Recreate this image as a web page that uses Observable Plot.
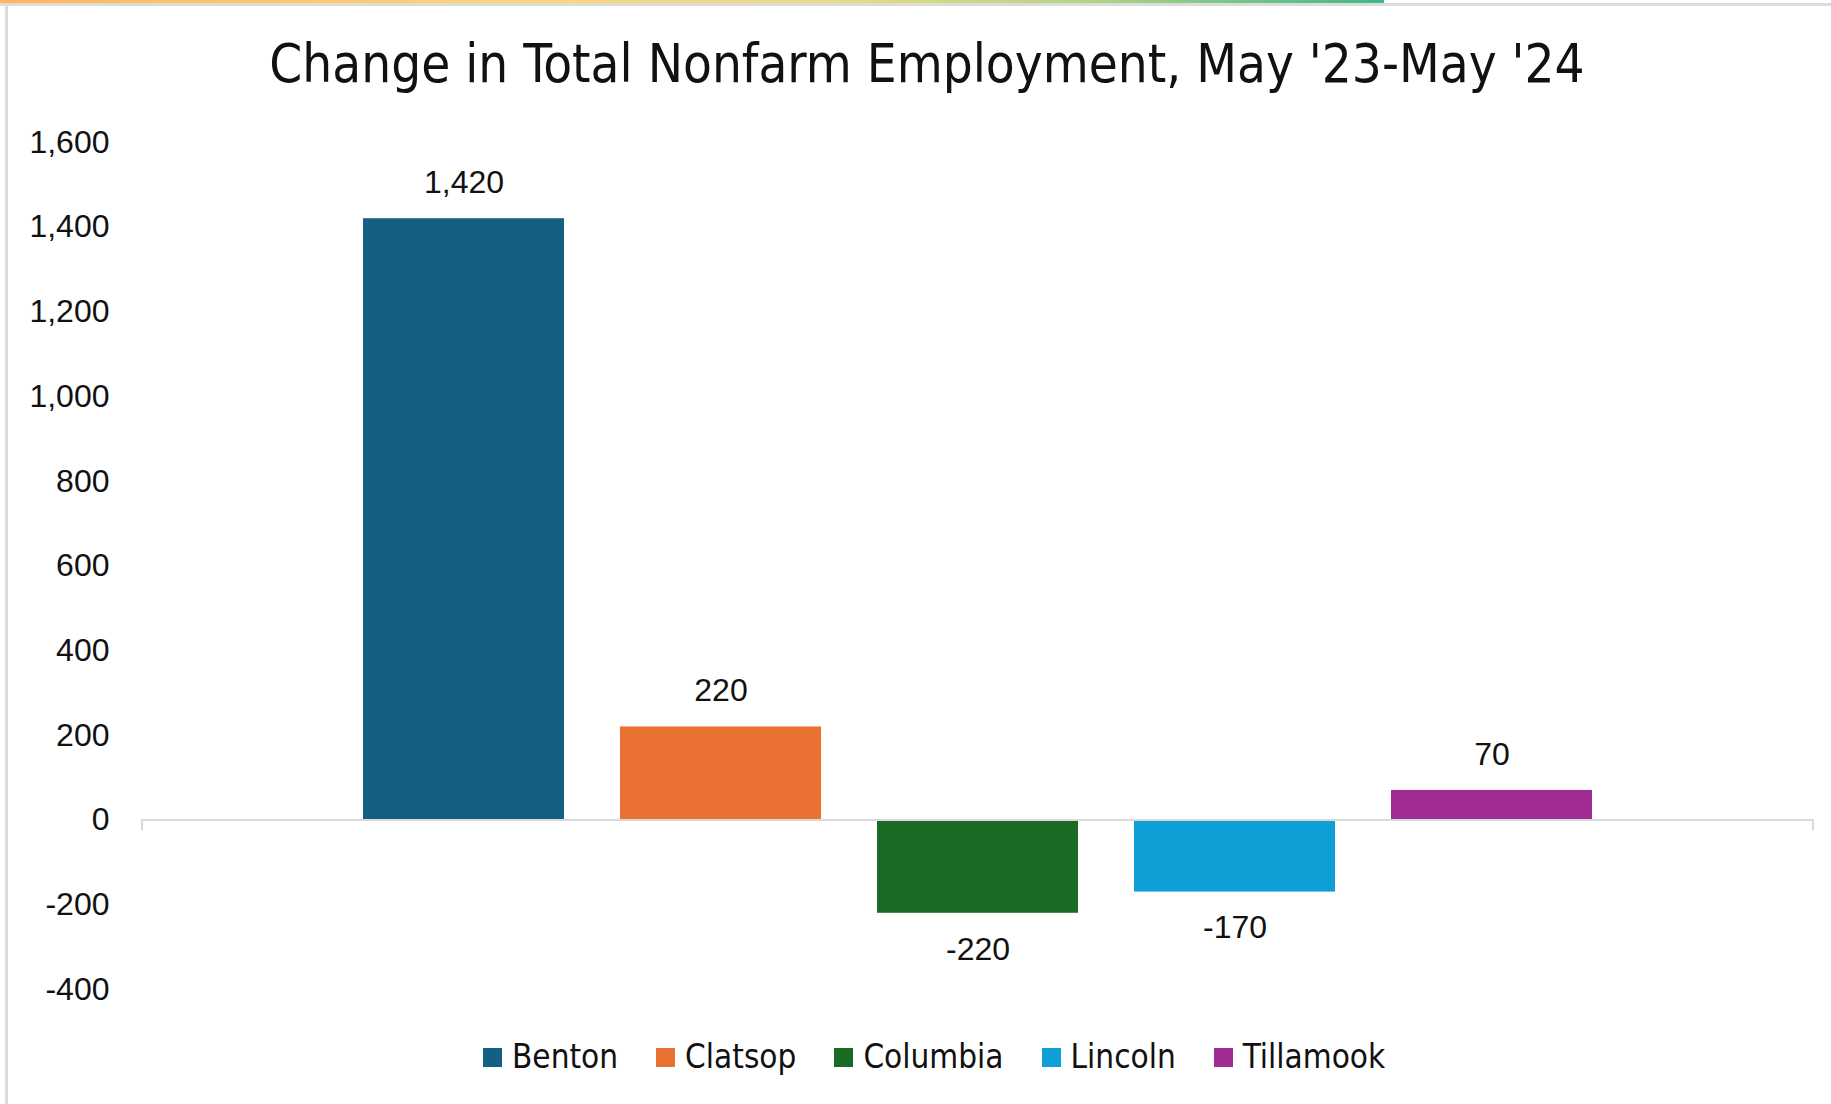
<!DOCTYPE html>
<html>
<head>
<meta charset="utf-8">
<script src="https://cdn.jsdelivr.net/npm/d3@7"></script>
<script src="https://cdn.jsdelivr.net/npm/@observablehq/plot@0.6"></script>
<style>
  html, body { margin: 0; padding: 0; background: #fff; }
  #page { position: relative; width: 1831px; height: 1104px; overflow: hidden; background: #fff; }
  #topbar { position: absolute; left: 0; top: 0; width: 1384px; height: 3px;
    background: linear-gradient(to right, #FDB65E 0%, #FBD77C 40%, #E9DC82 60%, #B5D486 78%, #3DB887 100%); }
  #topline { position: absolute; left: 0; top: 3px; width: 1831px; height: 3px; background: #dcdcdc; }
  #leftline { position: absolute; left: 5px; top: 5px; width: 3px; height: 1099px; background: #dcdcdc; }
  #title { position: absolute; left: 0; top: 28px; width: 1854px; text-align: center;
    font-family: "Liberation Sans Narrow", "DejaVu Sans Condensed", "Roboto Condensed", sans-serif;
    font-stretch: condensed; font-size: 56px; line-height: 72px; color: #111; white-space: nowrap; }
  #title span { display: inline-block; }
  #chart { position: absolute; left: 0; top: 121px; }
  #legend { position: absolute; left: 483px; top: 1037px; display: flex; align-items: center;
    font-family: "Liberation Sans Narrow", "DejaVu Sans Condensed", "Roboto Condensed", sans-serif;
    font-stretch: condensed; font-size: 33px; line-height: 40px; color: #111; white-space: nowrap; }
  .item { display: flex; align-items: center; margin-right: 38px; }
  .sw { width: 19px; height: 19px; margin-right: 10px; }
</style>
</head>
<body>
<div id="page">
  <div id="topbar"></div>
  <div id="topline"></div>
  <div id="leftline"></div>
  <div id="title"><span id="titletext">Change in Total Nonfarm Employment, May '23-May '24</span></div>
  <div id="chart"></div>
  <div id="legend"></div>
</div>
<script>
const counties = ["Benton", "Clatsop", "Columbia", "Lincoln", "Tillamook"];
const changes = [1420, 220, -220, -170, 70];
const colors = ["#156082", "#E97132", "#196B24", "#0F9ED5", "#A02B93"];
const yTicks = [-400, -200, 0, 200, 400, 600, 800, 1000, 1200, 1400, 1600];

const data = counties.map((c, i) => ({county: c, value: changes[i]}));
const fmt = d => d.toLocaleString("en-US");

const endTicks = (index, scales, values, dimensions) => {
  const g = d3.create("svg:g");
  const y0 = scales.y(0);
  const xl = dimensions.marginLeft;
  const xr = dimensions.width - dimensions.marginRight;
  for (const x of [xl, xr]) {
    g.append("line").attr("x1", x).attr("x2", x).attr("y1", y0).attr("y2", y0 + 11)
      .attr("stroke", "#d9d9d9").attr("stroke-width", 2);
  }
  return g.node();
};

const chart = Plot.plot({
  width: 1831,
  height: 930,
  marginLeft: 142,
  marginRight: 18,
  marginTop: 21,
  marginBottom: 62,
  style: {fontFamily: "'Liberation Sans', Arial, sans-serif", fontSize: "32px", color: "#111", background: "transparent"},
  x: {domain: counties, paddingInner: 0.218, paddingOuter: 0.86, round: false, axis: null},
  y: {domain: [-400, 1600], ticks: yTicks},
  color: {domain: counties, range: colors},
  marks: [
    Plot.axisY({ticks: yTicks, tickSize: 0, tickPadding: 33, tickFormat: fmt, label: null, fontSize: 32, fill: "#111"}),
    Plot.barY(data, {x: "county", y: "value", fill: "county"}),
    Plot.ruleY([0], {stroke: "#d9d9d9", strokeWidth: 2}),
    endTicks,
    Plot.text(data.filter(d => d.value >= 0), {x: "county", y: "value", text: d => fmt(d.value), dy: -36, fontSize: 32, fill: "#111"}),
    Plot.text(data.filter(d => d.value < 0), {x: "county", y: "value", text: d => fmt(d.value), dy: 36, fontSize: 32, fill: "#111"})
  ]
});
document.getElementById("chart").appendChild(chart);

const legend = document.getElementById("legend");
counties.forEach((c, i) => {
  const item = document.createElement("div");
  item.className = "item";
  const sw = document.createElement("div");
  sw.className = "sw";
  sw.style.background = colors[i];
  const lab = document.createElement("span");
  lab.textContent = c;
  item.appendChild(sw);
  item.appendChild(lab);
  legend.appendChild(item);
});

// fit title width to the reference's span
const t = document.getElementById("titletext");
const w = t.getBoundingClientRect().width;
const target = 1316;
const fs = 56 * target / w;
document.getElementById("title").style.fontSize = fs.toFixed(1) + "px";
</script>
</body>
</html>
